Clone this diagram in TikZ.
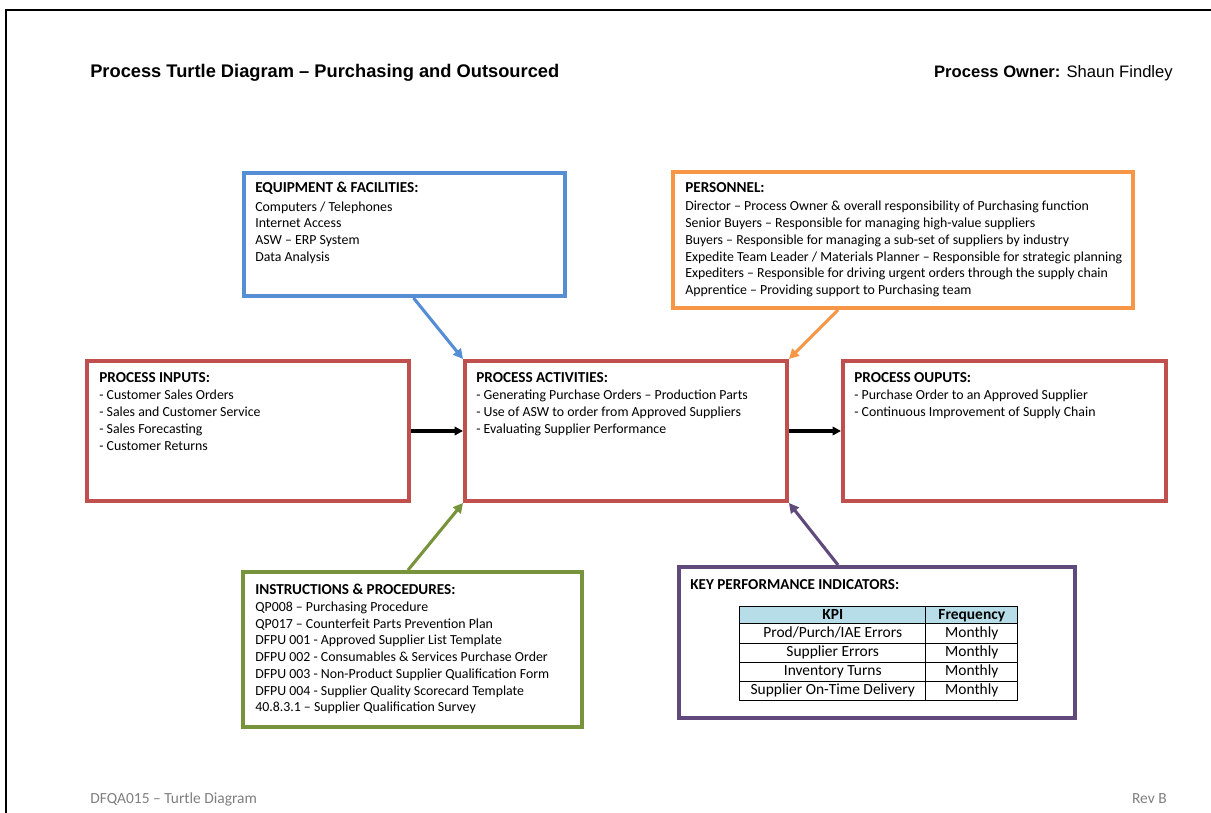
\documentclass[tikz,border=0pt]{standalone}
\usepackage{fontspec}
\setmainfont{Carlito}
\newfontfamily\arialfont{Liberation Sans}
\usetikzlibrary{arrows.meta,fit,matrix}
\definecolor{eqblue}{HTML}{558ED5}
\definecolor{perorange}{HTML}{F79646}
\definecolor{procred}{HTML}{C0504D}
\definecolor{insgreen}{HTML}{77933C}
\definecolor{kpipurple}{HTML}{604A7B}
\definecolor{kpihead}{HTML}{B7DEE8}
\definecolor{footgray}{HTML}{7F7F7F}
\newcommand{\boxhead}[1]{{\fontsize{10.8}{11.9}\selectfont\bfseries #1}}
\begin{document}
\begin{tikzpicture}
		[x=0.025cm, y=-0.025cm,
		box/.style={draw=#1, line width=2.8pt, inner sep=0pt},
		boxtext/.style={anchor=north west, inner sep=0pt, align=left, font=\fontsize{9.85}{11.9}\selectfont},
		link/.style={line width=2.2pt, #1, -{Triangle[length=7pt,width=7pt]}},
		flow/.style={line width=2.2pt, black, -{Triangle[length=6pt,width=6pt]}}]
		\useasboundingbox (0,0) rectangle (1211,813);

		% Page frame
		\draw[line width=1.6pt] (6,830) -- (6,10) -- (1230,10);

		% Header and footer
		\node[anchor=base west, inner sep=0pt, font=\arialfont\bfseries\fontsize{13}{15}\selectfont] (title) at (90,78) {Process Turtle Diagram – Purchasing and Outsourced};
		\node[anchor=base east, inner sep=0pt, font=\arialfont\fontsize{11.8}{14}\selectfont] (owner) at (1173,78) {\textbf{Process Owner:} Shaun Findley};
		\node[anchor=base west, inner sep=0pt, text=footgray, font=\fontsize{11}{13}\selectfont] (docref) at (90,803) {DFQA015 – Turtle Diagram};
		\node[anchor=base east, inner sep=0pt, text=footgray, font=\fontsize{11}{13}\selectfont] (rev) at (1167,803) {Rev B};

		% Boxes
		\node[box=eqblue, fit={(244,173) (565,296)}] (equip) {};
		\node[box=perorange, fit={(673,172) (1133,308)}] (pers) {};
		\node[box=procred, fit={(87,361) (409,501)}] (inputs) {};
		\node[box=procred, fit={(465,361) (787,501)}] (activ) {};
		\node[box=procred, fit={(843,361) (1166,501)}] (outputs) {};
		\node[box=insgreen, fit={(243,572) (582,727)}] (instr) {};
		\node[box=kpipurple, fit={(679,567) (1075,718)}] (kpi) {};

		% Box texts
		\node[boxtext] (equiptext) at (255,182) {\boxhead{EQUIPMENT \& FACILITIES:}\\[1.2pt]
			Computers / Telephones\\
			Internet Access\\
			ASW – ERP System\\
			Data Analysis};
		\node[boxtext] (perstext) at (685,182) {\boxhead{PERSONNEL:}\\[1.4pt]
			Director – Process Owner \& overall responsibility of Purchasing function\\
			Senior Buyers – Responsible for managing high-value suppliers\\
			Buyers – Responsible for managing a sub-set of suppliers by industry\\
			Expedite Team Leader / Materials Planner – Responsible for strategic planning\\
			Expediters – Responsible for driving urgent orders through the supply chain\\
			Apprentice – Providing support to Purchasing team};
		\node[boxtext] (inputstext) at (99,372) {\boxhead{PROCESS INPUTS:}\\[0.7pt]
			- Customer Sales Orders\\
			- Sales and Customer Service\\
			- Sales Forecasting\\
			- Customer Returns};
		\node[boxtext] (activtext) at (476,372) {\boxhead{PROCESS ACTIVITIES:}\\[0.7pt]
			- Generating Purchase Orders – Production Parts\\
			- Use of ASW to order from Approved Suppliers\\
			- Evaluating Supplier Performance};
		\node[boxtext] (outputstext) at (854,372) {\boxhead{PROCESS OUPUTS:}\\[0.7pt]
			- Purchase Order to an Approved Supplier\\
			- Continuous Improvement of Supply Chain};
		\node[boxtext] (instrtext) at (255,584) {\boxhead{INSTRUCTIONS \& PROCEDURES:}\\
			QP008 – Purchasing Procedure\\
			QP017 – Counterfeit Parts Prevention Plan\\
			DFPU 001 - Approved Supplier List Template\\
			DFPU 002 - Consumables \& Services Purchase Order\\
			DFPU 003 - Non-Product Supplier Qualification Form\\
			DFPU 004 - Supplier Quality Scorecard Template\\
			40.8.3.1 – Supplier Qualification Survey};
		\node[boxtext] (kpitext) at (690,579) {\boxhead{KEY PERFORMANCE INDICATORS:}};

		% KPI table
		\matrix (kpitab) [matrix of nodes, anchor=north west, inner sep=0pt,
			column sep=-0.6pt, row sep=-0.6pt,
			nodes={draw, anchor=center, line width=0.6pt, inner sep=0pt, minimum height=0.48cm,
				text height=7.5pt, text depth=2.2pt, font=\fontsize{11}{12}\selectfont},
			column 1/.style={nodes={minimum width=4.65cm}},
			column 2/.style={nodes={minimum width=2.3cm}},
			row 1/.style={nodes={fill=kpihead, minimum height=0.43cm, font=\bfseries\fontsize{11}{12}\selectfont}}]
			at (739,606) {
			KPI & Frequency \\
			Prod/Purch/IAE Errors & Monthly \\
			Supplier Errors & Monthly \\
			Inventory Turns & Monthly \\
			Supplier On-Time Delivery & Monthly \\
		};

		% Connectors
		\draw[link=eqblue] ([shift={(9,0)}]equip.south) -- (activ.north west);
		\draw[link=perorange] ([shift={(167,0)}]pers.south west) -- (activ.north east);
		\draw[link=insgreen] ([shift={(167,0)}]instr.north west) -- (activ.south west);
		\draw[link=kpipurple] ([shift={(161,0)}]kpi.north west) -- (activ.south east);
		\draw[flow] (inputs.east) -- (activ.west);
		\draw[flow] (activ.east) -- (outputs.west);
	\end{tikzpicture}
\end{document}
